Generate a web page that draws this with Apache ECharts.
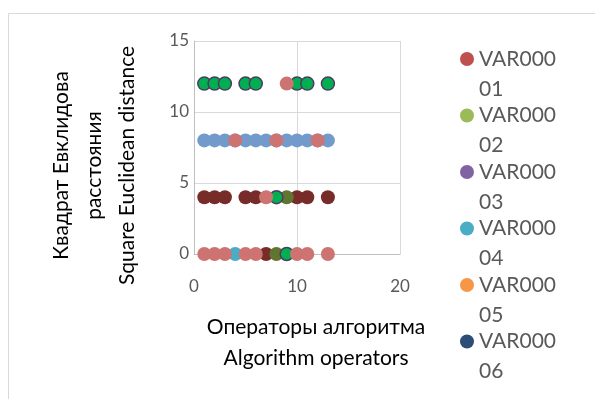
<!DOCTYPE html>
<html>
<head>
<meta charset="utf-8">
<script src="https://cdn.jsdelivr.net/npm/echarts@6/dist/echarts.min.js"></script>
<style>
  html, body { margin: 0; padding: 0; background: #fff; }
  #chart { width: 595px; height: 399px; }
</style>
</head>
<body>
<div id="chart"></div>
<script>
// axis ticks
let xTicks = [0, 10, 20];
let yTicks = [0, 5, 10, 15];

// series (x = operator, y = distance)
let var04X = [4];
let var04Y = [0];
let var07X = [7, 1, 2, 3, 5, 6, 10, 11, 13];
let var07Y = [0, 4, 4, 4, 4, 4, 4, 4, 4];
let var08X = [8, 9];
let var08Y = [0, 4];
let var09X = [9, 8, 1, 2, 3, 5, 6, 10, 11, 13];
let var09Y = [0, 4, 12, 12, 12, 12, 12, 12, 12, 12];
let var10X = [1, 2, 3, 4, 5, 6, 7, 8, 9, 10, 11, 12, 13];
let var10Y = [8, 8, 8, 8, 8, 8, 8, 8, 8, 8, 8, 8, 8];
let var11X = [1, 2, 3, 5, 6, 10, 11, 13, 7, 4, 8, 12, 9];
let var11Y = [0, 0, 0, 0, 0, 0, 0, 0, 4, 8, 8, 8, 12];

let legendNames = ['VAR00001', 'VAR00002', 'VAR00003', 'VAR00004', 'VAR00005', 'VAR00006'];
let legendColors = ['#C0504D', '#9BBB59', '#8064A2', '#4BACC6', '#F79646', '#2C4D75'];

function pairs(xs, ys) {
  return xs.map((x, i) => [x, ys[i]]);
}

let font = 'Lato, "Open Sans", sans-serif';

let series = [];
// legend-only series (their points are hidden behind the others)
legendNames.forEach((n, i) => {
  if (n === 'VAR00004') return;
  series.push({ name: n, type: 'scatter', symbolSize: 14, itemStyle: { color: legendColors[i], opacity: 1 }, data: [] });
});
series.push({ name: 'VAR00004', type: 'scatter', symbolSize: 14, itemStyle: { color: '#4BACC6', opacity: 1 }, data: pairs(var04X, var04Y) });
series.push({ name: 'VAR00007', type: 'scatter', symbolSize: 14, itemStyle: { color: '#772C2A', opacity: 1 }, data: pairs(var07X, var07Y) });
series.push({ name: 'VAR00008', type: 'scatter', symbolSize: 14, itemStyle: { color: '#5F7530', opacity: 1 }, data: pairs(var08X, var08Y) });
series.push({ name: 'VAR00009', type: 'scatter', symbolSize: 13, itemStyle: { color: '#00B050', borderColor: '#4D3B62', borderWidth: 1.5, opacity: 1 }, data: pairs(var09X, var09Y) });
series.push({ name: 'VAR00010', type: 'scatter', symbolSize: 14, itemStyle: { color: '#729ACA', opacity: 1 }, data: pairs(var10X, var10Y) });
series.push({ name: 'VAR00011', type: 'scatter', symbolSize: 14, itemStyle: { color: '#CD7371', opacity: 1 }, data: pairs(var11X, var11Y) });

let myChart = echarts.init(document.getElementById('chart'));
myChart.setOption({
  animation: false,
  textStyle: { fontFamily: font },
  graphic: [{
    type: 'rect',
    shape: { x: 8.5, y: 13.5, width: 800, height: 600 },
    style: { fill: 'none', stroke: '#D9D9D9', lineWidth: 1 },
    silent: true
  }],
  grid: { left: 194, top: 41, width: 206, height: 213, containLabel: false },
  xAxis: {
    type: 'value',
    min: xTicks[0],
    max: xTicks[xTicks.length - 1],
    interval: 10,
    axisLine: { show: true, lineStyle: { color: '#BFBFBF' } },
    axisTick: { show: false },
    splitLine: { show: true, lineStyle: { color: '#D9D9D9' } },
    axisLabel: { color: '#595959', fontSize: 17, fontFamily: font, margin: 24 },
    name: 'Операторы алгоритма\nAlgorithm operators',
    nameLocation: 'middle',
    nameGap: 58,
    nameTextStyle: { color: '#000', fontSize: 21, fontFamily: font, lineHeight: 31, padding: [0, 0, 0, 38] }
  },
  yAxis: {
    type: 'value',
    min: yTicks[0],
    max: yTicks[yTicks.length - 1],
    interval: 5,
    axisLine: { show: true, lineStyle: { color: '#BFBFBF' } },
    axisTick: { show: false },
    splitLine: { show: true, lineStyle: { color: '#D9D9D9' } },
    axisLabel: { color: '#595959', fontSize: 17, fontFamily: font, margin: 5 },
    name: 'Квадрат Евклидова\nрасстояния\nSquare Euclidean distance',
    nameLocation: 'middle',
    nameRotate: 90,
    nameGap: 50,
    nameTextStyle: { color: '#000', fontSize: 21, fontFamily: font, lineHeight: 33, padding: [0, 36, 0, 0] }
  },
  legend: {
    data: legendNames,
    orient: 'vertical',
    left: 455,
    top: 9,
    icon: 'circle',
    itemWidth: 14,
    itemHeight: 14,
    itemGap: -33.5,
    // blank first line keeps the marker level with the first text line
    formatter: function (n) { return ' \n' + n.slice(0, 6) + '\n' + n.slice(6); },
    textStyle: { color: '#595959', fontSize: 21, fontFamily: font, lineHeight: 30 }
  },
  series: series
});
</script>
</body>
</html>
